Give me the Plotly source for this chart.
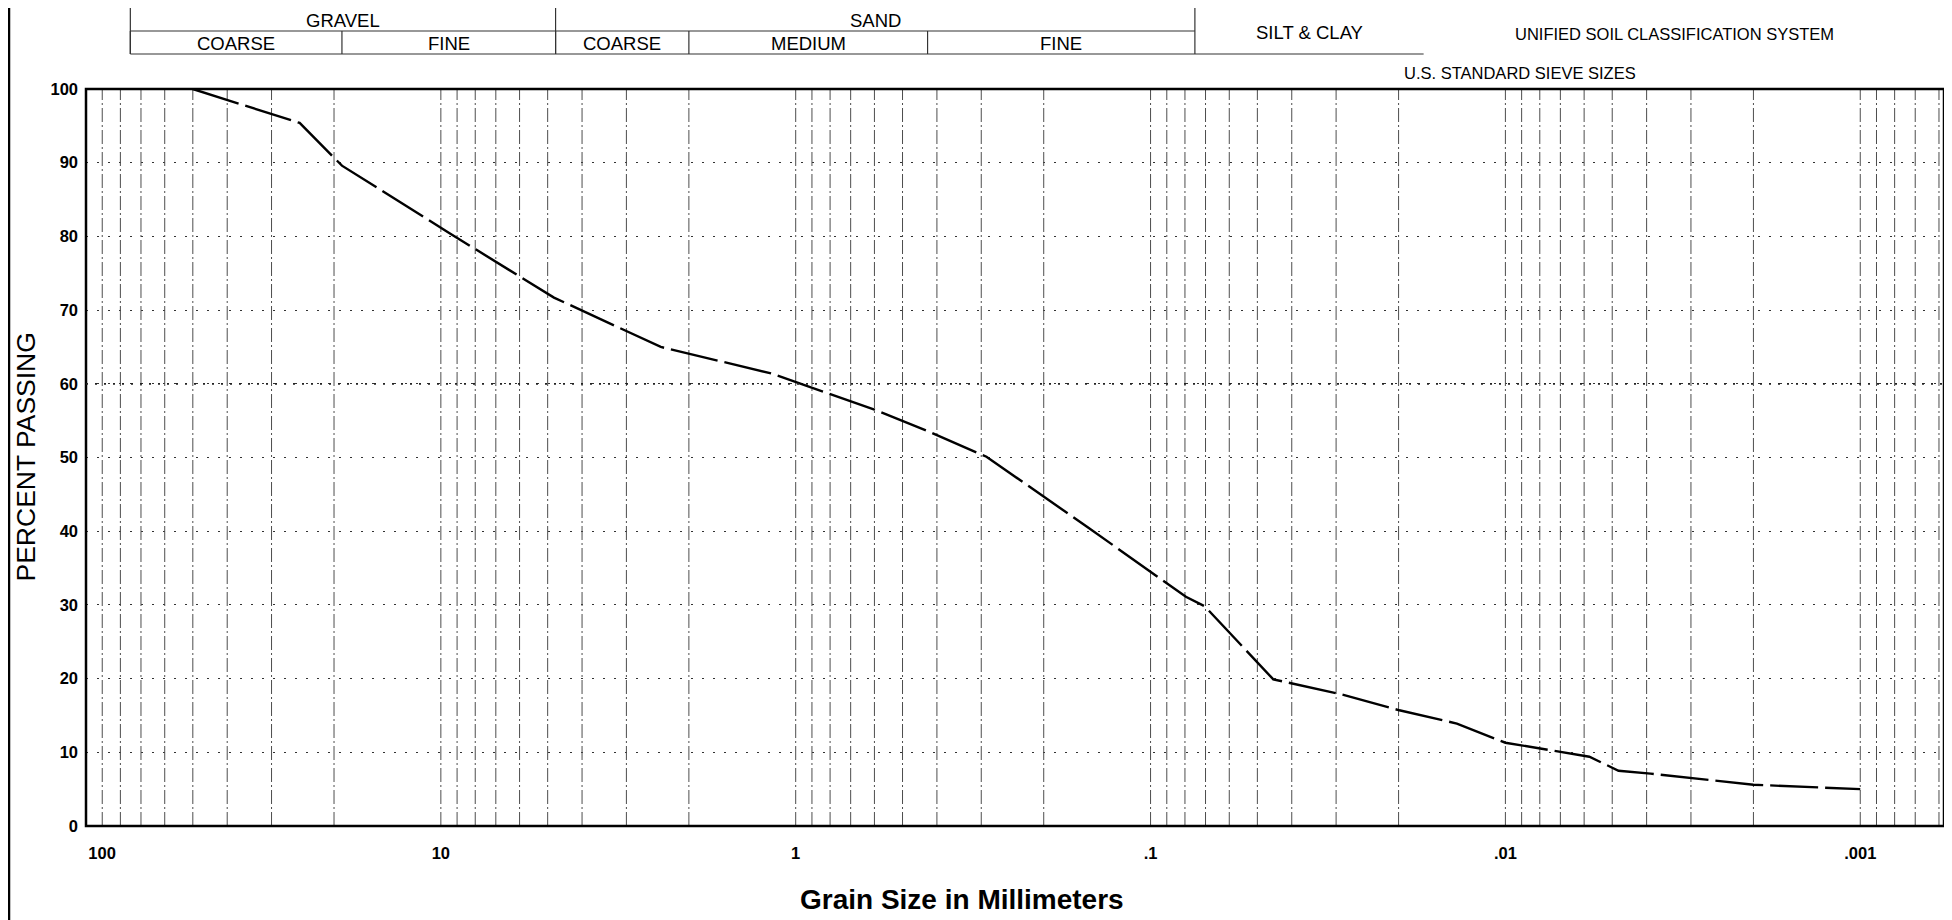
import numpy as np
import plotly.graph_objects as go

# ---------------- data ----------------
grain_mm = [50, 25, 19, 9.5, 4.8, 2.4, 1.17, 0.6, 0.425, 0.29, 0.15,
            0.0795, 0.0703, 0.0451, 0.0292, 0.0199, 0.0137, 0.0100,
            0.0058, 0.0048, 0.0039, 0.0029, 0.0020, 0.0010]
percent_passing = [100, 95.4, 89.6, 80.5, 71.7, 65.0, 61.4, 56.5, 53.6, 50.1, 40.5,
                   31.1, 29.8, 19.9, 17.9, 15.7, 13.9, 11.3,
                   9.4, 7.5, 7.1, 6.4, 5.6, 5.0]

x_tick_vals = [100, 10, 1, 0.1, 0.01, 0.001]
x_tick_text = ["100", "10", "1", ".1", ".01", ".001"]
y_tick_vals = [0, 10, 20, 30, 40, 50, 60, 70, 80, 90, 100]

# Unified Soil Classification header (grain-size boundaries in mm)
group_names = ["GRAVEL", "SAND"]
group_bounds = [(75, 4.75), (4.75, 0.075)]
sub_names = ["COARSE", "FINE", "COARSE", "MEDIUM", "FINE"]
sub_bounds = [(75, 19), (19, 4.75), (4.75, 2.0), (2.0, 0.425), (0.425, 0.075)]
fines_name = "SILT & CLAY"
fines_bounds = (0.075, 0.017)

# ---------------- layout constants ----------------
FONT = "Liberation Sans, Arial, sans-serif"
X_RANGE = [2.0, -3.236]
OFF = 8                      # page body margin of the html page
W, H = 1952 - OFF, 920 - OFF
ML, MT = 86 - OFF, 89 - OFF
MR = W - (1944 - OFF)
MB = H - (826 - OFF)
PLOT_W = W - ML - MR
PLOT_H = H - MT - MB


def py(win_y):
    """window pixel row -> paper y"""
    return (H - MB - (win_y - OFF)) / PLOT_H


def px(win_x):
    """window pixel column -> paper x"""
    return ((win_x - OFF) - ML) / PLOT_W


fig = go.Figure()

# vertical log grid (1..9 per decade)
gx, gy = [], []
lo = 10 ** X_RANGE[1]
for e in range(-4, 2):
    for k in range(1, 10):
        v = k * 10.0 ** e
        if lo < v <= 100:
            gx += [v, v, None]
            gy += [0, 100, None]
fig.add_trace(go.Scatter(x=gx, y=gy, mode="lines", hoverinfo="skip",
                         line=dict(color="#4d4d4d", width=1, dash="14px,3px,2px,3px"),
                         showlegend=False))

# gradation curve
fig.add_trace(go.Scatter(x=grain_mm, y=percent_passing, mode="lines",
                         line=dict(color="black", width=2.4, dash="48px,7px"),
                         showlegend=False))

shapes = []
# frame
shapes.append(dict(type="rect", xref="x domain", yref="y domain", x0=0, x1=1, y0=0, y1=1,
                   line=dict(color="black", width=2.5)))
# emphasised 60 % line
shapes.append(dict(type="line", xref="x domain", yref="y", x0=0, x1=1, y0=60, y1=60,
                   line=dict(color="#222222", width=1.8, dash="2px,7px")))
# page border at far left
shapes.append(dict(type="line", xref="paper", yref="paper", x0=px(OFF + 1), x1=px(OFF + 1),
                   y0=py(930), y1=py(0), line=dict(color="black", width=2.5)))

# header table lines
HL = dict(color="#333333", width=1.2)
y_top, y_mid, y_bot = py(7.5), py(31), py(54)
left, right_sand = group_bounds[0][0], group_bounds[1][1]
shapes.append(dict(type="line", xref="x", yref="paper", x0=left, x1=fines_bounds[1],
                   y0=y_top, y1=y_top, line=HL))
shapes.append(dict(type="line", xref="x", yref="paper", x0=left, x1=right_sand,
                   y0=y_mid, y1=y_mid, line=HL))
shapes.append(dict(type="line", xref="x", yref="paper", x0=left, x1=fines_bounds[1],
                   y0=y_bot, y1=y_bot, line=HL))
for a, b in group_bounds:
    shapes.append(dict(type="line", xref="x", yref="paper", x0=a, x1=a,
                       y0=y_bot, y1=y_top, line=HL))
shapes.append(dict(type="line", xref="x", yref="paper", x0=fines_bounds[0], x1=fines_bounds[0],
                   y0=y_bot, y1=y_top, line=HL))
for a, b in sub_bounds:
    shapes.append(dict(type="line", xref="x", yref="paper", x0=a, x1=a,
                       y0=y_bot, y1=y_mid, line=HL))

annotations = []
hdr_font = dict(family=FONT, size=18.5, color="black")
C = dict(showarrow=False, xanchor="center", yanchor="middle")
for name, (a, b) in zip(group_names, group_bounds):
    annotations.append(dict(text=name, xref="x", yref="paper",
                            x=(np.log10(a) + np.log10(b)) / 2, y=py(20),
                            font=hdr_font, **C))
for name, (a, b) in zip(sub_names, sub_bounds):
    annotations.append(dict(text=name, xref="x", yref="paper",
                            x=(np.log10(a) + np.log10(b)) / 2, y=py(43),
                            font=hdr_font, **C))
annotations.append(dict(text=fines_name, xref="x", yref="paper",
                        x=(np.log10(fines_bounds[0]) + np.log10(fines_bounds[1])) / 2,
                        y=py(32.5), font=hdr_font, **C))
annotations.append(dict(text="UNIFIED SOIL CLASSIFICATION SYSTEM", xref="paper", yref="paper",
                        x=px(1674), y=py(34), font=dict(family=FONT, size=16.5, color="black"), **C))
annotations.append(dict(text="U.S. STANDARD SIEVE SIZES", xref="paper", yref="paper",
                        x=px(1520), y=py(73), font=dict(family=FONT, size=16.5, color="black"), **C))
# axis titles
annotations.append(dict(text="PERCENT PASSING", xref="paper", yref="paper",
                        x=px(25), y=0.5, textangle=-90,
                        font=dict(family=FONT, size=26.5, color="black"), **C))
annotations.append(dict(text="<b>Grain Size in Millimeters</b>", xref="paper", yref="paper",
                        x=px(962), y=py(899),
                        font=dict(family=FONT, size=28, color="black"), **C))

tick_text = ["\u00a0" * 7 + t if t == "100" else t for t in x_tick_text]

fig.update_layout(
    width=W, height=H,
    margin=dict(l=ML, r=MR, t=MT, b=MB, autoexpand=False),
    paper_bgcolor="white", plot_bgcolor="white",
    font=dict(family=FONT, color="black"),
    showlegend=False,
    shapes=shapes,
    annotations=annotations,
    xaxis=dict(type="log", range=X_RANGE, tickmode="array", tickvals=x_tick_vals,
               ticktext=tick_text, showgrid=False, zeroline=False, showline=False,
               ticks="", ticklabelstandoff=15,
               tickfont=dict(family=FONT, size=16.5, weight="bold", color="black")),
    yaxis=dict(range=[0, 100], tickmode="array", tickvals=y_tick_vals,
               showgrid=True, gridcolor="#333333", gridwidth=1, griddash="2px,9px",
               zeroline=False, showline=False, ticks="", ticklabelstandoff=7,
               tickfont=dict(family=FONT, size=16.5, weight="bold", color="black")),
)

fig.write_html("out.html")
